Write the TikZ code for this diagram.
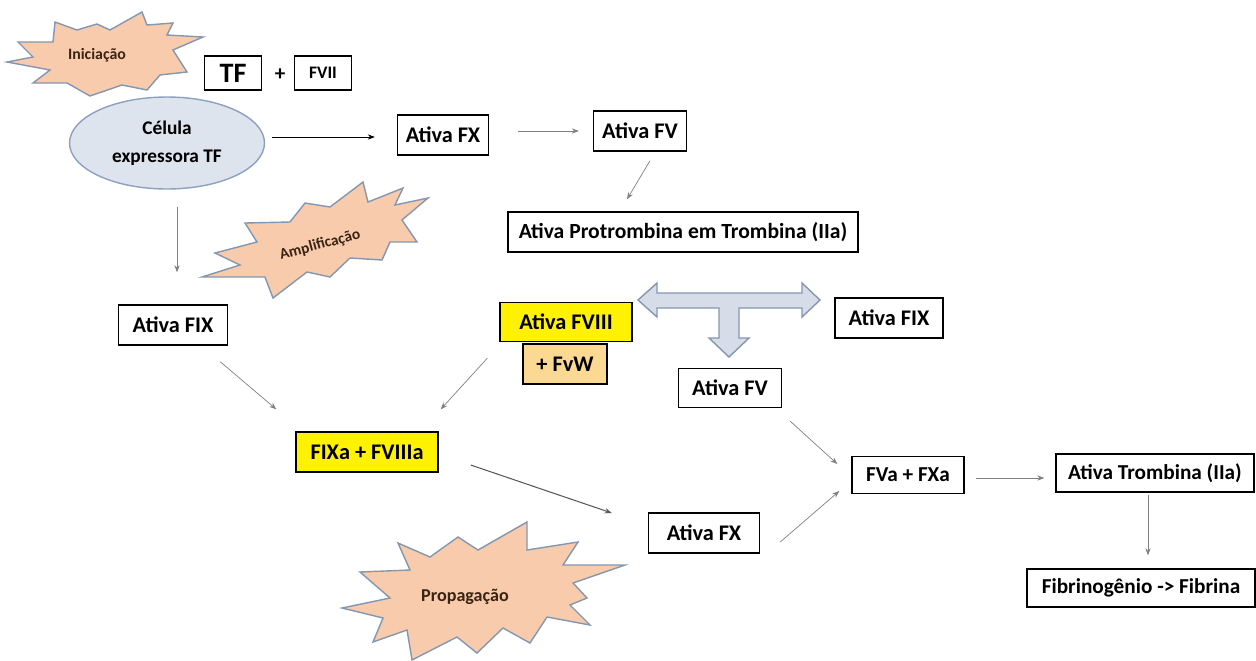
\documentclass[tikz,border=0pt]{standalone}
\usepackage{fontspec}
\setmainfont{Carlito}
\usetikzlibrary{shapes.geometric,arrows.meta}
\definecolor{burstfill}{HTML}{F8CBAD}
\definecolor{burstline}{HTML}{8497B0}
\definecolor{cellfill}{HTML}{DEE4EE}
\definecolor{cellline}{HTML}{8EA0BF}
\definecolor{tfill}{HTML}{D6DDE8}
\definecolor{fvwfill}{HTML}{FCD993}
\definecolor{burstink}{HTML}{3A2412}
\tikzset{every picture/.style = {x=0.02cm, y=-0.02cm, font=\bfseries}}
\tikzset{box/.style = {draw, thick, inner sep=0, minimum height=0.8cm, font=\bfseries\fontsize{12.7}{14}\selectfont}}
\tikzset{smallbox/.style = {box, font=\bfseries\fontsize{12.1}{14}\selectfont}}
\tikzset{yellowbox/.style = {box, fill=yellow}}
\tikzset{burst/.style = {fill=burstfill, draw=burstline, thick, line join=miter}}
\tikzset{bursttext/.style = {text=burstink}}
\tikzset{conn/.style = {gray, -{Stealth[length=4pt, width=3pt]}}}

\begin{document}
\begin{tikzpicture}
  \useasboundingbox (0, 0) rectangle (1256, 660);
  % starbursts
  \draw[burst] (7, 62) -- (33, 57) -- (18, 42) -- (53, 42) -- (55, 22)
    -- (77, 30) -- (97, 24) -- (110, 30) -- (142, 12) -- (147, 25)
    -- (173, 23) -- (167, 35) -- (203, 37) -- (173, 50) -- (187, 72)
    -- (160, 75) -- (147, 90) -- (122, 85) -- (90, 96) -- (67, 83)
    -- (33, 83) -- (50, 70) -- cycle;
  \node[bursttext, font=\bfseries\fontsize{9}{10}\selectfont] (iniciacao) at (97, 55) {Iniciação};
  \draw[burst] (215, 253) -- (257, 242) -- (245, 223) -- (290, 222) -- (305, 203)
    -- (330, 207) -- (363, 182) -- (368, 202) -- (403, 188) -- (395, 205)
    -- (428, 198) -- (402, 220) -- (417, 242) -- (390, 242) -- (382, 260)
    -- (350, 258) -- (330, 277) -- (307, 272) -- (273, 298) -- (265, 277)
    -- (202, 277) -- (240, 265) -- cycle;
  \node[bursttext, rotate=15, font=\bfseries\fontsize{8.8}{10}\selectfont] (amplificacao) at (320, 245) {Amplificação};
  \draw[burst] (342, 608) -- (390, 598) -- (360, 572) -- (410, 570) -- (398, 543)
    -- (430, 557) -- (458, 537) -- (478, 550) -- (527, 522) -- (527, 550)
    -- (578, 542) -- (563, 565) -- (625, 565) -- (573, 583) -- (587, 598)
    -- (570, 605) -- (590, 625) -- (547, 617) -- (530, 643) -- (503, 628)
    -- (477, 653) -- (457, 637) -- (412, 660) -- (407, 630) -- (373, 642)
    -- (383, 618) -- cycle;
  \node[bursttext, font=\bfseries\fontsize{10.3}{12}\selectfont] (propagacao) at (465, 597) {Propagação};

  % T arrow
  \draw[fill=tfill, draw=burstline, thick] (638, 300) -- (657, 283) -- (657, 293)
    -- (802, 293) -- (802, 283) -- (820, 300) -- (802, 317) -- (802, 308)
    -- (739, 308) -- (739, 338) -- (749, 338) -- (729, 357) -- (709, 338)
    -- (719, 338) -- (719, 308) -- (657, 308) -- (657, 317) -- cycle;

  % initiation
  \node[box, minimum width=1.14cm, minimum height=0.68cm, font=\bfseries\fontsize{16}{18}\selectfont] (tf) at (233, 73) {TF};
  \node[font=\bfseries\fontsize{12}{14}\selectfont] (plus) at (280, 75) {+};
  \node[box, minimum width=1.14cm, minimum height=0.68cm, font=\bfseries\fontsize{10}{12}\selectfont] (fvii) at (323, 73) {FVII};
  \node[ellipse, fill=cellfill, draw=cellline, thick, minimum width=3.9cm, minimum height=1.84cm,
    align=center, font=\bfseries\fontsize{11}{16}\selectfont] (celula) at (167, 143) {Célula\\expressora TF};
  \node[box, minimum width=1.82cm] (fxA) at (443, 135) {Ativa FX};
  \node[box, minimum width=1.86cm] (fvA) at (640, 131) {Ativa FV};
  \node[box, minimum width=7.0cm, font=\bfseries\fontsize{12.3}{14}\selectfont] (protrombina) at (683, 232) {Ativa Protrombina em Trombina (IIa)};

  % amplification
  \node[box, minimum width=2.18cm] (fixA) at (173, 325) {Ativa FIX};
  \node[yellowbox, minimum width=2.64cm, minimum height=0.78cm] (fviii) at (566, 322) {Ativa FVIII};
  \node[box, fill=fvwfill, minimum width=1.68cm] (fvw) at (565, 364) {+ FvW};
  \node[box, minimum width=2.16cm] (fixB) at (889, 318) {Ativa FIX};
  \node[box, minimum width=2.06cm, minimum height=0.78cm] (fvB) at (730, 388) {Ativa FV};

  % propagation
  \node[yellowbox, minimum width=2.84cm] (fixafviiia) at (367, 452) {FIXa + FVIIIa};
  \node[box, minimum width=2.22cm] (fxB) at (704, 533) {Ativa FX};
  \node[smallbox, minimum width=2.24cm, minimum height=0.74cm] (fvafxa) at (908, 475) {FVa + FXa};
  \node[smallbox, minimum width=3.96cm, minimum height=0.76cm] (trombina) at (1155, 473) {Ativa Trombina (IIa)};
  \node[smallbox, minimum width=4.56cm, minimum height=0.76cm] (fibrina) at (1141, 588) {Fibrinogênio -> Fibrina};

  % connectors
  \draw[conn, black] ([shift={(7, -6)}]celula.east) -- ([shift={(-22, 2)}]fxA.west);
  \draw[conn] ([shift={(29, -4)}]fxA.east) -- ([shift={(-14, 0)}]fvA.west);
  \draw[conn] ([shift={(10, 9)}]fvA.south) -- ([shift={(-56, -12)}]protrombina.north);
  \draw[conn] ([shift={(10, 17)}]celula.south) -- ([shift={(4, -32)}]fixA.north);
  \draw[conn] ([shift={(-8, 16)}]fixA.south east) -- ([shift={(-19, -22)}]fixafviiia.north west);
  \draw[conn] ([shift={(-12, 16)}]fviii.south west) -- ([shift={(2, -22)}]fixafviiia.north east);
  \draw[conn, black!65, semithick] ([shift={(32, 13)}]fixafviiia.east) -- ([shift={(-36, -20)}]fxB.west);
  \draw[conn] ([shift={(8, 13)}]fvB.south east) -- ([shift={(-14, -11)}]fvafxa.west);
  \draw[conn] ([shift={(20, 9)}]fxB.east) -- ([shift={(-12, 16)}]fvafxa.west);
  \draw[conn] ([shift={(11, 3)}]fvafxa.east) -- ([shift={(-11, 5)}]trombina.west);
  \draw[conn] ([shift={(-7, 2)}]trombina.south) -- ([shift={(7, -13)}]fibrina.north);
\end{tikzpicture}
\end{document}
